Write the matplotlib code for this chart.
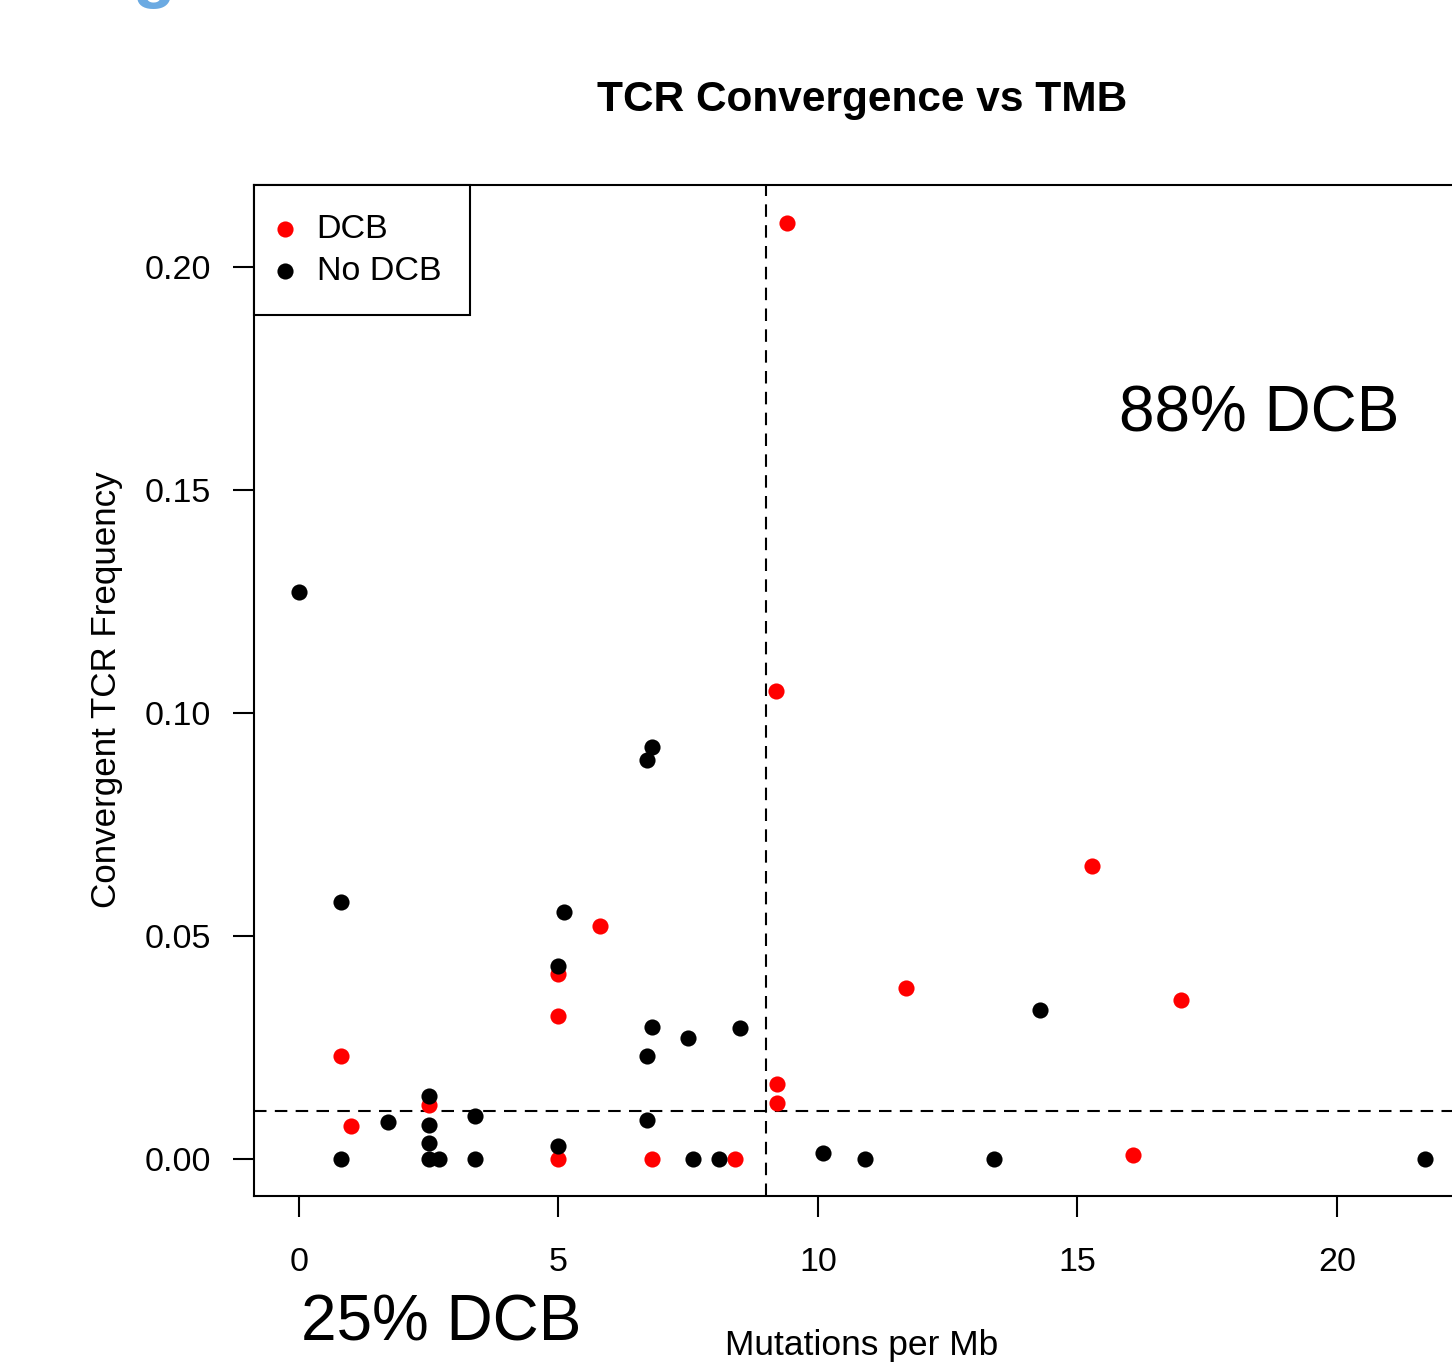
"""
TCR convergence vs tumour mutational burden, scatter with DCB / No DCB groups.
"""

import matplotlib
matplotlib.use("Agg")
import matplotlib.pyplot as plt

plt.rcParams['font.family'] = ['Liberation Sans', 'DejaVu Sans']

# DCB (durable clinical benefit) points
dcb_tmb = [9.40, 9.19, 15.29, 5.81, 5.0, 11.69, 17.0, 5.0, 0.81, 9.21, 9.21,
           2.5, 1.0, 5.0, 6.81, 8.4, 16.08]
dcb_freq = [0.2098, 0.105, 0.0656, 0.0522, 0.0414, 0.0383, 0.0356, 0.032,
            0.0231, 0.0168, 0.0125, 0.0121, 0.0074, 0.0, 0.0, 0.0, 0.0009]

# No DCB points
nodcb_tmb = [0.0, 6.81, 6.71, 0.81, 5.1, 5.0, 6.81, 8.5, 7.5, 6.71, 14.29,
             2.5, 3.4, 1.71, 2.5, 6.71, 2.5, 5.0, 0.81, 2.5, 2.69, 3.4,
             7.6, 8.1, 10.1, 10.9, 13.4, 21.7]
nodcb_freq = [0.127, 0.0923, 0.0893, 0.0575, 0.0553, 0.0432, 0.0296, 0.0293,
              0.0271, 0.0231, 0.0334, 0.0141, 0.0096, 0.0081, 0.0076, 0.0087,
              0.0036, 0.0029, 0.0, 0.0, 0.0, 0.0, 0.0, 0.0, 0.0013, 0.0, 0.0,
              0.0]

tmb_cut = 9.0
freq_cut = 0.0107

W, H = 1452, 1370
fig = plt.figure(figsize=(W / 100, H / 100), dpi=100)

# axes box runs off the right side of the picture
left, right, top, bottom = 254, 1470, 185, 1196
ax = fig.add_axes([left / W, 1 - bottom / H, (right - left) / W, (bottom - top) / H])

ax.scatter(dcb_tmb, dcb_freq, s=135, color='red', linewidths=0, zorder=3, label='DCB')
ax.scatter(nodcb_tmb, nodcb_freq, s=135, color='black', linewidths=0, zorder=3, label='No DCB')

ax.axvline(tmb_cut, color='black', lw=1.5, linestyle=(0, (6, 4)), zorder=2)
ax.axhline(freq_cut, color='black', lw=1.5, linestyle=(0, (6, 4)), zorder=2)

ax.set_xlim(-0.868, 22.568)
ax.set_ylim(-0.0084, 0.2184)
ax.set_xticks([0, 5, 10, 15, 20])
ax.set_yticks([0.0, 0.05, 0.10, 0.15, 0.20])
ax.set_yticklabels(['0.00', '0.05', '0.10', '0.15', '0.20'])
ax.tick_params(axis='both', length=15, width=1.5, labelsize=24.5, direction='out')
ax.tick_params(axis='x', pad=22)
ax.tick_params(axis='y', pad=16)
for sp in ax.spines.values():
    sp.set_linewidth(1.5)

fig.text(862 / W, 1 - 100 / H, 'TCR Convergence vs TMB', fontsize=30.5,
         fontweight='bold', ha='center', va='center')
fig.text(862 / W, 1 - 1345 / H, 'Mutations per Mb', fontsize=25.5,
         ha='center', va='center')
fig.text(107 / W, 1 - 690 / H, 'Convergent TCR Frequency', fontsize=25.2,
         ha='center', va='center', rotation=90)

leg = ax.legend(loc='upper left', bbox_to_anchor=(0, 1), borderaxespad=0,
                fontsize=24.5, fancybox=False, edgecolor='black', framealpha=1,
                handletextpad=0.85, handlelength=0.15, borderpad=0.84,
                labelspacing=0.33, markerscale=1.0)
leg.get_frame().set_linewidth(1.5)

ax.text(15.81, 0.167, '88% DCB', fontsize=46, ha='left', va='center')
ax.text(0.04, -0.037, '25% DCB', fontsize=46, ha='left', va='center', clip_on=False)

# cropped panel letter at the top edge
fig.text(153 / W, 1 + 5 / H, 'g', fontsize=50, fontweight='bold', color='#6BAAE2',
         ha='center', va='baseline')

fig.savefig('out.png', dpi=100)
